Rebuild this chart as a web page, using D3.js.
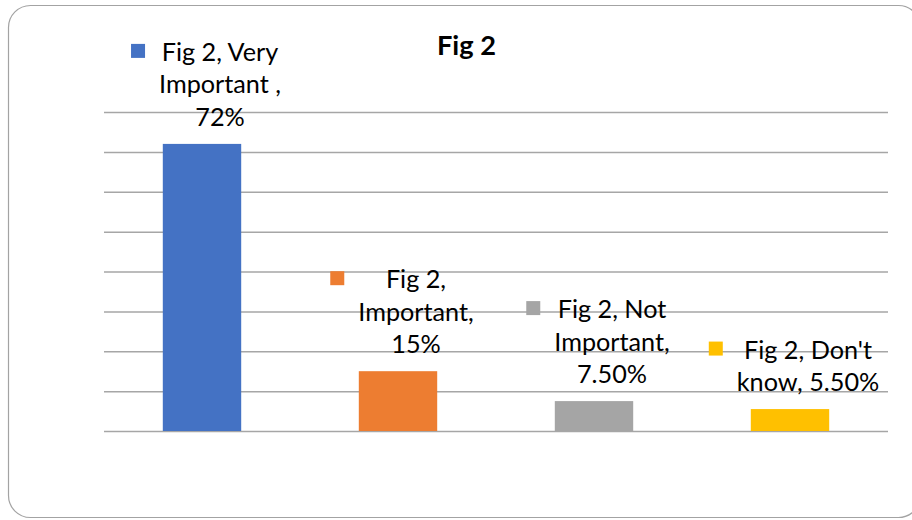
<!DOCTYPE html>
<html><head><meta charset="utf-8">
<script src="https://cdn.jsdelivr.net/npm/d3@7/dist/d3.min.js"></script>
<style>html,body{margin:0;padding:0;background:#fff;}svg{display:block;}</style>
</head><body>
<svg id="chart" width="912" height="520"></svg>
<script>
const title = "Fig 2";
const categories = ["Very Important", "Important", "Not Important", "Don't know"];
const values = [72, 15, 7.5, 5.5];
const colors = ["#4472c4", "#ed7d31", "#a5a5a5", "#ffc000"];
const labelLines = [
  ["Fig 2, Very", "Important ,", "72%"],
  ["Fig 2,", "Important,", "15%"],
  ["Fig 2, Not", "Important,", "7.50%"],
  ["Fig 2, Don't", "know, 5.50%"]
];
const yTicks = [0, 10, 20, 30, 40, 50, 60, 70, 80];

const svg = d3.select("#chart");
const FONT = "Lato, 'Open Sans', sans-serif";

svg.append("rect").attr("x", 8.5).attr("y", 5.5).attr("width", 912).attr("height", 512)
  .attr("rx", 22).attr("fill", "#fff").attr("stroke", "#a3a3a3").attr("stroke-width", 1.2);

const x = d3.scaleBand().domain(categories).range([104, 888]).paddingInner(0.6).paddingOuter(0.3);
const y = d3.scaleLinear().domain([0, 80]).range([431, 112]);

const grid = svg.append("g").attr("transform", "translate(104,0)")
  .call(d3.axisLeft(y).tickValues(yTicks).tickSize(-784).tickFormat(""));
grid.select(".domain").remove();
grid.selectAll(".tick line").attr("stroke", "#a6a6a6").attr("stroke-width", 1.5);

svg.append("g").selectAll("rect").data(values).join("rect")
  .attr("x", (d, i) => x(categories[i]))
  .attr("width", x.bandwidth())
  .attr("y", d => y(d))
  .attr("height", d => y(0) - y(d))
  .attr("fill", (d, i) => colors[i]);

// fit title so it measures like the reference
const tprobe = svg.append("text").attr("font-family", FONT).attr("font-weight", "bold").attr("font-size", 100).text(title);
const tw100 = tprobe.node().getComputedTextLength();
tprobe.remove();
svg.append("text").attr("x", 466.5).attr("y", 55).attr("text-anchor", "middle")
  .attr("font-family", FONT).attr("font-weight", "bold").attr("font-size", 100 * 59 / tw100)
  .attr("fill", "#000").text(title);

// fit font size so "Important ," measures like the reference
const probe = svg.append("text").attr("font-family", FONT).attr("font-size", 100).text("Important ,");
const w100 = probe.node().getComputedTextLength();
probe.remove();
const fs = 100 * 122 / w100;
const lineH = 32.5, keyS = 14, gap = 14;

values.forEach((v, i) => {
  const lines = labelLines[i];
  const g = svg.append("g");
  const texts = lines.map(t => g.append("text").attr("font-family", FONT).attr("font-size", fs)
    .attr("fill", "#000").attr("text-anchor", "middle").text(t));
  const blockW = d3.max(texts, t => t.node().getComputedTextLength());
  const cx = x(categories[i]) + x.bandwidth() / 2 + 4;
  const total = keyS + gap + blockW;
  const left = cx - total / 2;
  const blockC = left + keyS + gap + blockW / 2;
  const lastBase = y(v) - 18;
  const firstBase = lastBase - (lines.length - 1) * lineH;
  texts.forEach((t, j) => t.attr("x", blockC).attr("y", firstBase + j * lineH));
  g.append("rect").attr("x", left).attr("y", firstBase - 17).attr("width", keyS).attr("height", keyS)
    .attr("fill", colors[i]);
});
</script>
</body></html>
